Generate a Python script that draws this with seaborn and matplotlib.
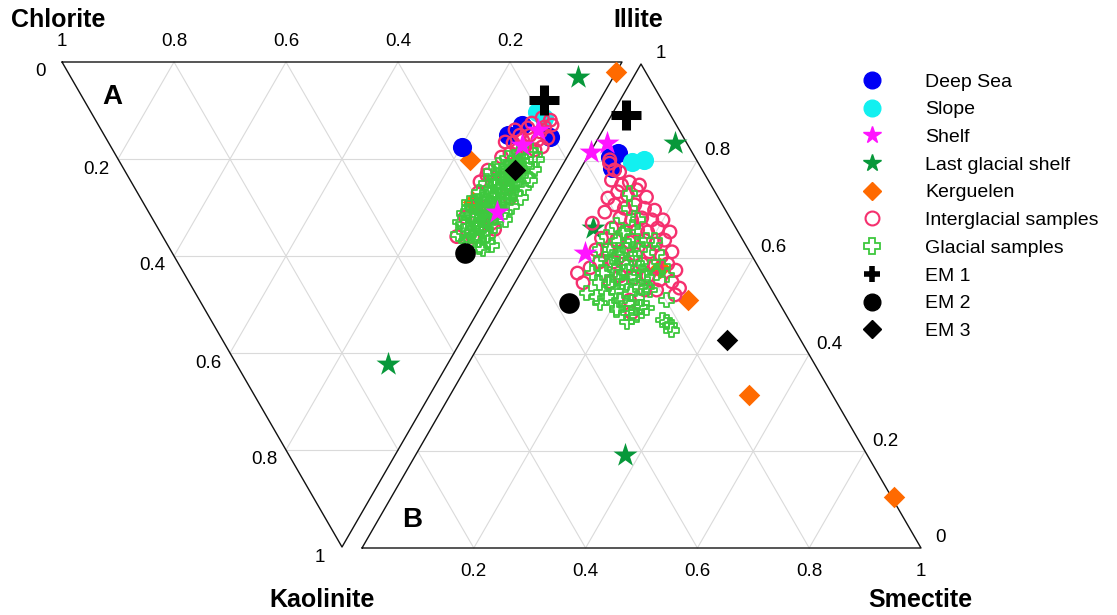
import numpy as np
import matplotlib
matplotlib.use("Agg")
import matplotlib.pyplot as plt
import seaborn as sns
from matplotlib.lines import Line2D

# ====================== DATA (percent) ======================
# Diagram A : Chlorite - Kaolinite - Illite   (Illite = 100 - Kaolinite - Chlorite)
A_deep_kao = [17.5, 15.1, 13.0, 15.5]
A_deep_chl = [19.8, 12.8, 11.4, 5.1]
A_slope_kao = [10.3, 11.5]
A_slope_chl = [10.0, 8.2]
A_shelf_kao = [14.0, 17.1, 30.9]
A_shelf_chl = [8.0, 9.3, 6.9]
A_lgs_kao = [3.1, 62.3]
A_lgs_chl = [6.3, 10.6]
A_kerg_kao = [2.1, 20.2, 28.9]
A_kerg_chl = [0.0, 17.0, 12.2]
A_em1_kao, A_em1_chl = [7.8], [10.0]
A_em2_kao, A_em2_chl = [39.4], [8.4]
A_em3_kao, A_em3_chl = [22.3], [8.0]

A_inter_kao = [14.0, 12.6, 13.4, 13.0, 16.1, 16.7, 17.5, 16.5, 17.5, 18.8, 19.6, 22.3, 23.3,
               24.7, 28.0, 29.9, 33.2, 34.0, 36.1, 15.1, 15.1, 14.4, 15.7, 18.1, 18.1, 13.6,
               16.1, 20.5, 24.0, 26.0, 30.0, 27.0, 32.0, 36.0, 34.5, 11.5, 12.0]
A_inter_chl = [12.1, 9.8, 7.1, 6.0, 7.0, 11.1, 8.6, 12.6, 5.5, 10.6, 11.7, 12.8, 12.5,
               13.0, 6.0, 9.6, 6.6, 8.7, 8.6, 10.7, 8.9, 7.4, 5.4, 6.5, 9.6, 10.0,
               9.7, 8.5, 9.0, 7.5, 11.0, 12.2, 12.0, 11.5, 5.5, 8.5, 6.8]

A_glac_kao = [18.2, 18.6, 19.1, 19.4, 19.8, 20.1, 20.4, 20.9, 21.2, 21.5, 21.8, 22.1, 22.4,
              22.6, 23.0, 23.3, 23.5, 23.9, 24.2, 24.4, 24.8, 25.0, 25.3, 25.7, 26.0, 26.2,
              26.6, 26.9, 27.1, 27.4, 27.8, 28.0, 28.3, 28.6, 28.9, 29.2, 29.5, 29.8, 30.1,
              30.4, 30.7, 31.0, 31.3, 31.6, 31.9, 32.2, 32.5, 32.8, 33.1, 33.4, 33.8, 34.1,
              34.5, 34.9, 35.3, 35.7, 36.2, 36.6, 37.1, 37.6, 38.2, 20.6, 22.9, 24.6, 26.4,
              28.4, 30.3, 32.4, 34.3, 27.6, 29.6, 25.5, 23.7, 31.5, 21.6, 33.0, 31.2, 29.0,
              35.5, 37.8, 38.6, 21.0, 22.0, 23.6, 24.0, 25.2, 25.9, 26.8, 27.3, 28.1, 28.7,
              29.4, 30.0, 30.6, 31.4, 32.0, 32.7, 33.6, 34.7, 35.9, 36.9, 26.0, 28.9, 24.9,
              22.6, 19.9]
A_glac_chl = [7.2, 9.1, 6.0, 8.3, 10.6, 5.2, 7.6, 9.4, 11.4, 6.3, 8.2, 4.6, 10.1,
              12.0, 6.9, 8.8, 5.1, 10.9, 7.4, 4.2, 9.6, 11.8, 6.1, 8.4, 4.5, 10.3,
              7.0, 12.1, 5.6, 9.1, 11.0, 4.1, 7.8, 9.9, 6.2, 11.9, 8.6, 4.8, 10.4,
              7.1, 12.2, 5.5, 9.0, 11.1, 6.7, 8.2, 4.6, 10.2, 7.3, 11.6, 5.9, 9.1,
              7.0, 10.8, 8.2, 6.1, 9.6, 7.4, 5.4, 8.3, 6.3, 8.6, 9.7, 6.6, 8.9,
              10.8, 8.7, 9.7, 8.1, 6.4, 7.2, 9.9, 7.9, 7.6, 9.9, 12.4, 12.6, 12.8,
              11.5, 4.4, 5.5, 8.0, 7.2, 9.2, 8.5, 7.5, 9.0, 8.0, 10.2, 8.9, 7.0,
              9.8, 7.8, 9.3, 8.4, 10.6, 7.9, 8.9, 9.5, 8.0, 9.4, 6.9, 11.0, 10.6,
              10.9, 9.0]

# Diagram B : (Kaolinite+Chlorite) - Smectite - Illite
B_deep_ill = [80.8, 78.5, 81.6]
B_deep_sme = [4.0, 5.6, 5.0]
B_slope_ill = [79.8, 80.2]
B_slope_sme = [8.4, 10.5]
B_shelf_ill = [81.8, 83.7, 61.0]
B_shelf_sme = [0.2, 2.0, 9.4]
B_lgs_ill = [83.7, 66.1, 19.2]
B_lgs_sme = [14.2, 8.3, 37.4]
B_kerg_ill = [51.2, 31.6, 10.5, 57.9]
B_kerg_sme = [32.7, 53.4, 89.9, 24.4]
B_em1_ill, B_em1_sme = [89.5], [2.5]
B_em2_ill, B_em2_sme = [50.6], [11.7]
B_em3_ill, B_em3_sme = [43.0], [43.8]

B_inter_ill = [80.2, 78.1, 77.7, 76.0, 75.0, 75.6, 73.6, 72.9, 74.0, 72.3, 70.9, 70.2, 70.9,
               70.2, 69.4, 68.2, 67.8, 68.2, 67.8, 66.1, 65.3, 65.7, 65.3, 66.1, 64.0, 63.6,
               63.2, 63.6, 62.8, 63.6, 61.6, 61.2, 60.7, 61.2, 60.3, 61.2, 59.1, 59.1, 58.3,
               58.7, 58.3, 58.7, 57.4, 56.2, 55.8, 56.2, 55.4, 55.0, 53.7, 55.0, 61.6, 57.9,
               56.8, 54.8, 48.6, 51.2, 53.3, 52.3, 53.3, 67.1, 75.0, 72.5, 69.8, 67.8, 65.3,
               79.5]
B_inter_sme = [4.3, 6.2, 7.3, 6.7, 9.0, 10.1, 9.0, 11.1, 12.2, 7.9, 9.8, 11.9, 13.4,
               15.5, 8.8, 12.1, 14.4, 16.0, 18.0, 11.7, 14.4, 16.5, 18.5, 19.9, 10.9, 13.8,
               16.3, 18.8, 21.2, 22.4, 13.2, 15.9, 18.6, 20.9, 23.5, 24.9, 13.0, 15.5, 18.4,
               20.8, 23.3, 25.4, 27.5, 18.1, 20.8, 23.1, 25.6, 28.0, 30.0, 16.9, 11.1, 11.9,
               10.2, 12.2, 24.0, 22.3, 26.1, 29.9, 24.0, 7.7, 12.2, 14.7, 17.5, 20.0, 22.5,
               4.6]

B_glac_ill = [73.3, 70.2, 67.8, 66.7, 64.3, 63.6, 64.3, 63.6, 63.6, 61.6, 61.6, 61.6, 61.6,
              61.0, 58.9, 58.9, 59.1, 58.9, 58.1, 58.1, 56.8, 56.8, 56.0, 56.0, 56.8, 56.8,
              56.4, 54.8, 53.9, 54.8, 53.9, 53.3, 52.7, 51.9, 51.7, 51.2, 51.7, 51.2, 50.6,
              49.6, 48.6, 49.8, 49.6, 48.1, 46.7, 47.1, 46.1, 45.0, 46.7, 53.9, 60.1, 65.1,
              66.3, 55.0, 49.8, 49.2, 47.7, 60.5, 62.5, 57.5, 57.8, 55.5, 53.0, 59.8, 54.5,
              52.5, 50.5, 62.8, 57.0]
B_glac_sme = [11.3, 12.8, 15.5, 12.3, 11.7, 14.3, 16.4, 19.2, 20.6, 11.8, 13.6, 16.6, 18.9,
              22.3, 12.6, 14.9, 17.1, 19.7, 22.5, 24.8, 12.9, 14.7, 17.6, 19.9, 21.9, 24.4,
              26.4, 15.2, 17.9, 20.0, 22.8, 24.9, 13.9, 16.1, 18.0, 20.5, 23.4, 28.9, 17.3,
              20.8, 23.3, 25.2, 26.2, 25.1, 24.1, 30.3, 32.1, 32.9, 31.2, 24.0, 14.8, 14.2,
              15.3, 19.2, 24.8, 21.0, 24.4, 16.0, 15.5, 16.5, 20.6, 22.5, 19.0, 19.0, 17.0,
              21.8, 22.2, 18.0, 18.5]

corner_labels = ["Chlorite", "Illite", "Kaolinite", "Smectite"]
tick_values = [0, 0.2, 0.4, 0.6, 0.8, 1]
tick_text = ["0", "0.2", "0.4", "0.6", "0.8", "1"]
legend_labels = ["Deep Sea", "Slope", "Shelf", "Last glacial shelf", "Kerguelen",
                 "Interglacial samples", "Glacial samples", "EM 1", "EM 2", "EM 3"]

# ====================== STYLE / LAYOUT ======================
sns.set_theme(style="white")
plt.rcParams["font.family"] = ["Liberation Sans", "DejaVu Sans"]
plt.rcParams["text.color"] = "black"

C_DEEP = "#0000F5"
C_SLOPE = "#12F0F0"
C_SHELF = "#FF14FF"
C_LGS = "#07983A"
C_KERG = "#FF6A00"
C_INTER = "#F5306E"
C_GLAC = "#3EC83E"

W, H = 1117, 615
fig = plt.figure(figsize=(W / 100, H / 100), dpi=100)
ax = fig.add_axes([0, 0, 1, 1])

# triangle vertices in canvas units
A_CHL = np.array([62.0, 62.0])
A_KAO = np.array([342.0, 547.0])
A_ILL = np.array([622.0, 62.0])
B_KC = np.array([362.0, 548.0])
B_SME = np.array([921.0, 548.0])
B_ILL = np.array([641.0, 64.0])


def tern(a, b, c, Va, Vb, Vc):
    a, b, c = (np.asarray(v, dtype=float) for v in (a, b, c))
    x = a * Va[0] + b * Vb[0] + c * Vc[0]
    y = a * Va[1] + b * Vb[1] + c * Vc[1]
    return x, y


def to_A(kao, chl):
    k = np.asarray(kao, float) / 100
    c = np.asarray(chl, float) / 100
    return tern(c, k, 1 - k - c, A_CHL, A_KAO, A_ILL)


def to_B(ill, sme):
    i = np.asarray(ill, float) / 100
    s = np.asarray(sme, float) / 100
    return tern(1 - i - s, s, i, B_KC, B_SME, B_ILL)


GRID = dict(color="#dadada", lw=0.8, zorder=0)
EDGE = dict(color="#111111", lw=1.0, zorder=1)

# grid + frame for both triangles
for (V1, V2, V3) in [(A_CHL, A_KAO, A_ILL), (B_KC, B_SME, B_ILL)]:
    for v in [0.2, 0.4, 0.6, 0.8]:
        for (P, Q, R) in [(V1, V2, V3), (V2, V3, V1), (V3, V1, V2)]:
            x, y = tern([v, v], [1 - v, 0], [0, 1 - v], P, Q, R)
            ax.plot(x, y, **GRID)
    tri = np.array([V1, V2, V3, V1])
    ax.plot(tri[:, 0], tri[:, 1], **EDGE)


def pts(x, y, marker, s, color, z, lw=0, ec=None, fc=None):
    kw = dict(x=x, y=y, ax=ax, marker=marker, s=s, color=color, zorder=z, legend=False)
    if marker == "+":
        kw["linewidth"] = lw
    else:
        kw["edgecolor"] = ec if ec is not None else color
        kw["linewidth"] = lw
    if fc is not None:
        kw["facecolors"] = fc
    sns.scatterplot(**kw)


for conv, data in [
    (to_A, dict(kerg=(A_kerg_kao, A_kerg_chl), deep=(A_deep_kao, A_deep_chl),
                slope=(A_slope_kao, A_slope_chl), lgs=(A_lgs_kao, A_lgs_chl),
                inter=(A_inter_kao, A_inter_chl), glac=(A_glac_kao, A_glac_chl),
                shelf=(A_shelf_kao, A_shelf_chl), em1=(A_em1_kao, A_em1_chl),
                em2=(A_em2_kao, A_em2_chl), em3=(A_em3_kao, A_em3_chl))),
    (to_B, dict(kerg=(B_kerg_ill, B_kerg_sme), deep=(B_deep_ill, B_deep_sme),
                slope=(B_slope_ill, B_slope_sme), lgs=(B_lgs_ill, B_lgs_sme),
                inter=(B_inter_ill, B_inter_sme), glac=(B_glac_ill, B_glac_sme),
                shelf=(B_shelf_ill, B_shelf_sme), em1=(B_em1_ill, B_em1_sme),
                em2=(B_em2_ill, B_em2_sme), em3=(B_em3_ill, B_em3_sme))),
]:
    x, y = conv(*data["kerg"]);  pts(x, y, "D", 120, C_KERG, 2)
    x, y = conv(*data["deep"]);  pts(x, y, "o", 190, C_DEEP, 3)
    x, y = conv(*data["slope"]); pts(x, y, "o", 190, C_SLOPE, 3)
    x, y = conv(*data["lgs"]);   pts(x, y, "*", 330, C_LGS, 4)
    x, y = conv(*data["inter"]); pts(x, y, "o", 82, C_INTER, 5, lw=1.7, fc="none")
    x, y = conv(*data["glac"]);  pts(x, y, "P", 105, C_GLAC, 6, lw=1.3, fc="none")
    x, y = conv(*data["shelf"]); pts(x, y, "*", 330, C_SHELF, 7)
    x, y = conv(*data["em1"]);   pts(x, y, "+", 440, "black", 8, lw=6.5)
    x, y = conv(*data["em2"]);   pts(x, y, "o", 220, "black", 8)
    x, y = conv(*data["em3"]);   pts(x, y, "D", 120, "black", 8)

# ---------------- text ----------------
TICK_FS = 13.5
TITLE_FS = 18
for v, t in zip(tick_values, tick_text):
    # A: chlorite along top edge (1 at left)
    if v > 0:
        x, y = tern([v], [0], [1 - v], A_CHL, A_KAO, A_ILL)
        ax.text(x[0], y[0] - 20, t, ha="center", va="center", fontsize=TICK_FS)
    # A: kaolinite along left edge (0 at top)
    x, y = tern([1 - v], [v], [0], A_CHL, A_KAO, A_ILL)
    ax.text(x[0] - 22, y[0] + 10, t, ha="center", va="center", fontsize=TICK_FS)
    # B: smectite along base
    if v > 0:
        x, y = tern([1 - v], [v], [0], B_KC, B_SME, B_ILL)
        ax.text(x[0], y[0] + 24, t, ha="center", va="center", fontsize=TICK_FS)
    # B: illite along right edge
    x, y = tern([0], [1 - v], [v], B_KC, B_SME, B_ILL)
    ax.text(x[0] + 20, y[0] - 10, t, ha="center", va="center", fontsize=TICK_FS)

ax.text(58, 20, corner_labels[0], ha="center", va="center", fontsize=TITLE_FS, fontweight="bold")
ax.text(638, 20, corner_labels[1], ha="center", va="center", fontsize=TITLE_FS, fontweight="bold")
ax.text(322, 600, corner_labels[2], ha="center", va="center", fontsize=TITLE_FS, fontweight="bold")
ax.text(920, 600, corner_labels[3], ha="center", va="center", fontsize=TITLE_FS, fontweight="bold")
ax.text(112, 97, "A", ha="center", va="center", fontsize=20, fontweight="bold")
ax.text(412, 520, "B", ha="center", va="center", fontsize=20, fontweight="bold")

# ---------------- legend ----------------
handles = [
    Line2D([], [], ls="none", marker="o", ms=12, mfc=C_DEEP, mec=C_DEEP),
    Line2D([], [], ls="none", marker="o", ms=12, mfc=C_SLOPE, mec=C_SLOPE),
    Line2D([], [], ls="none", marker="*", ms=13, mfc=C_SHELF, mec=C_SHELF),
    Line2D([], [], ls="none", marker="*", ms=13, mfc=C_LGS, mec=C_LGS),
    Line2D([], [], ls="none", marker="D", ms=9, mfc=C_KERG, mec=C_KERG),
    Line2D([], [], ls="none", marker="o", ms=10, mfc="white", mec=C_INTER, mew=1.5),
    Line2D([], [], ls="none", marker="P", ms=11, mfc="white", mec=C_GLAC, mew=1.3),
    Line2D([], [], ls="none", marker="+", ms=12, mec="black", mew=4),
    Line2D([], [], ls="none", marker="o", ms=12, mfc="black", mec="black"),
    Line2D([], [], ls="none", marker="D", ms=9, mfc="black", mec="black"),
]
fig.legend(handles, legend_labels, loc="upper left", bbox_to_anchor=(862 / W, 1 - 73 / H),
           frameon=False, fontsize=14, handlelength=1.0, handletextpad=2.25,
           labelspacing=0.52, borderpad=0, borderaxespad=0)

ax.set_xlim(0, W)
ax.set_ylim(H, 0)
ax.axis("off")
fig.savefig("out.png", dpi=100)
